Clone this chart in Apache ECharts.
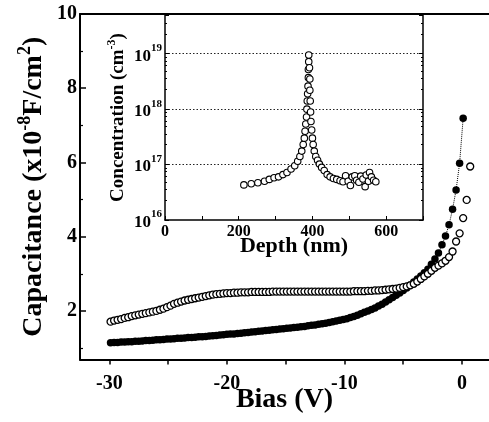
<!DOCTYPE html>
<html>
<head>
<meta charset="utf-8">
<script src="https://cdn.jsdelivr.net/npm/echarts@6/dist/echarts.min.js"></script>
<style>
html,body{margin:0;padding:0;background:#fff;}
#chart{width:489px;height:422px;}
</style>
</head>
<body>
<div id="chart"></div>
<script>
// Main plot: bias (V) sampling of the C-V sweep
const bias = [
-29.9,-29.6,-29.3,-29.0,-28.7,-28.4,-28.1,-27.8,-27.5,-27.2,
-26.9,-26.6,-26.3,-26.0,-25.7,-25.4,-25.1,-24.8,-24.5,-24.2,
-23.9,-23.6,-23.3,-23.0,-22.7,-22.4,-22.1,-21.8,-21.5,-21.2,
-20.9,-20.6,-20.3,-20.0,-19.7,-19.4,-19.1,-18.8,-18.5,-18.2,
-17.9,-17.6,-17.3,-17.0,-16.7,-16.4,-16.1,-15.8,-15.5,-15.2,
-14.9,-14.6,-14.3,-14.0,-13.7,-13.4,-13.1,-12.8,-12.5,-12.2,
-11.9,-11.6,-11.3,-11.0,-10.7,-10.4,-10.1,-9.8,-9.5,-9.2,
-8.9,-8.6,-8.3,-8.0,-7.7,-7.4,-7.1,-6.8,-6.5,-6.2,
-5.9,-5.6,-5.3,-5.0,-4.7,-4.4,-4.1,-3.8,-3.5,-3.2,
-2.9,-2.6,-2.3,-2.0,-1.7,-1.4,-1.1,-0.8,-0.5,-0.2,
0.1,0.4,0.7
];
// Filled circles (x1e-8 F/cm^2)
const capFilled = [
1.14,1.15,1.15,1.16,1.16,1.17,1.17,1.18,1.18,1.19,
1.20,1.20,1.21,1.22,1.22,1.23,1.24,1.24,1.25,1.26,
1.26,1.27,1.28,1.28,1.29,1.30,1.30,1.31,1.32,1.33,
1.34,1.35,1.36,1.37,1.38,1.38,1.39,1.40,1.41,1.42,
1.43,1.44,1.45,1.46,1.47,1.48,1.49,1.50,1.51,1.52,
1.53,1.54,1.55,1.56,1.57,1.58,1.60,1.61,1.62,1.64,
1.65,1.67,1.69,1.71,1.73,1.75,1.77,1.79,1.82,1.85,
1.88,1.92,1.96,2.00,2.04,2.08,2.13,2.18,2.24,2.30,
2.36,2.42,2.48,2.55,2.62,2.70,2.78,2.86,2.94,3.03,
3.12,3.26,3.40,3.56,3.78,4.02,4.32,4.74,5.26,5.98,
7.19
];
// Open circles (x1e-8 F/cm^2)
const capOpen = [
1.71,1.74,1.76,1.78,1.81,1.83,1.86,1.88,1.90,1.92,
1.94,1.96,1.98,2.00,2.03,2.06,2.10,2.14,2.19,2.22,
2.25,2.28,2.30,2.32,2.34,2.36,2.38,2.40,2.42,2.44,
2.45,2.46,2.47,2.48,2.48,2.49,2.49,2.50,2.50,2.50,
2.51,2.51,2.51,2.51,2.51,2.51,2.52,2.52,2.52,2.52,
2.52,2.52,2.52,2.52,2.52,2.52,2.52,2.52,2.52,2.52,
2.52,2.52,2.52,2.52,2.52,2.52,2.52,2.52,2.52,2.53,
2.53,2.53,2.53,2.54,2.54,2.55,2.55,2.56,2.57,2.58,
2.59,2.60,2.62,2.64,2.66,2.69,2.73,2.79,2.86,2.93,
3.00,3.08,3.16,3.22,3.28,3.35,3.45,3.60,3.87,4.09,
4.50,4.99,5.89
];
// Inset: depth (nm) vs concentration (cm^-3)
const depth = [
214,234,252,270,283,296,308,320,331,342,352,360,366,371,375,378,380,382,384,385,386,387,388,389,389,390,390,
392,393,393,394,395,396,398,400,402,405,409,414,419,425,432,440,448,457,466,475,483,
490,497,503,508,515,520,526,531,537,543,546,552,555,560,566,572
];
const conc = [
4.3e16,4.5e16,4.7e16,5.0e16,5.4e16,5.8e16,6.0e16,6.6e16,7.2e16,8.3e16,9.5e16,1.15e17,1.4e17,1.75e17,2.3e17,3.0e17,4.0e17,5.4e17,7.2e17,1.0e18,1.4e18,1.9e18,2.6e18,3.7e18,5.2e18,7.2e18,9.5e18,
5.6e18,3.5e18,2.2e18,1.4e18,8.9e17,6.0e17,4.2e17,3.0e17,2.3e17,1.75e17,1.4e17,1.2e17,1.02e17,8.9e16,7.8e16,6.6e16,6.0e16,5.6e16,5.4e16,5.1e16,4.9e16,
6.3e16,5.0e16,4.2e16,6.0e16,6.3e16,5.2e16,4.8e16,6.2e16,5.5e16,4.0e16,6.5e16,5.0e16,7.2e16,6.0e16,5.2e16,4.9e16
];
const mainYLabels = [2,4,6,8,10];
const mainYMinor = [1,3,5,7,9];
const mainXLabels = [-30,-20,-10,0];
const mainXTicks = [-30,-25,-20,-15,-10,-5,0];

const FONT = 'Liberation Serif';
const txt = {fontFamily: FONT, fontWeight: 'bold', color: '#000'};

const filledData = capFilled.map((v,i)=>[bias[i], v]);
const openData = capOpen.map((v,i)=>[bias[i], v]);
const insetData = conc.map((v,i)=>[depth[i], v]);

const chart = echarts.init(document.getElementById('chart'), null, {renderer:'canvas'});
chart.setOption({
  animation: false,
  backgroundColor: '#fff',
  grid: [
    {left: 80, top: 14, right: 0, bottom: 62.5, containLabel: false, outerBoundsMode: 'none'},
    {left: 165, top: 15, width: 258, height: 205, containLabel: false, outerBoundsMode: 'none'}
  ],
  xAxis: [
    {
      gridIndex: 0, type: 'value', min: -32.5, max: 2.3, position: 'bottom',
      axisLine: {show: true, onZero: false, lineStyle: {color: '#000', width: 2}},
      axisTick: {show: true, inside: false, length: 5, lineStyle: {width: 1.5, color:'#000'}, customValues: mainXTicks},
      axisLabel: Object.assign({fontSize: 20, margin: 14, customValues: mainXLabels}, txt),
      splitLine: {show: false},
      name: 'Bias (V)', nameLocation: 'middle', nameGap: 26, nameMoveOverlap: false,
      nameTextStyle: Object.assign({fontSize: 28}, txt)
    },
    {
      gridIndex: 0, type: 'value', min: -32.5, max: 2.3, position: 'top',
      axisLine: {show: true, onZero: false, lineStyle: {color: '#000', width: 2}},
      axisTick: {show: false}, axisLabel: {show: false}, splitLine: {show: false}
    },
    {
      gridIndex: 1, type: 'value', min: 0, max: 700, interval: 100, position: 'bottom',
      axisLine: {show: true, onZero: false, lineStyle: {color: '#000', width: 1.5}},
      axisTick: {show: true, inside: true, length: 4, lineStyle: {color:'#000'}},
      axisLabel: Object.assign({fontSize: 16, margin: 4, formatter: v => (v % 200 === 0 && v < 700) ? String(v) : ''}, txt),
      splitLine: {show: false},
      name: 'Depth (nm)', nameLocation: 'middle', nameGap: 15, nameMoveOverlap: false,
      nameTextStyle: Object.assign({fontSize: 22}, txt)
    }
  ],
  yAxis: [
    {
      gridIndex: 0, type: 'value', min: 0.69, max: 10, position: 'left',
      axisLine: {show: true, onZero: false, lineStyle: {color: '#000', width: 2}},
      axisTick: {show: true, inside: true, length: 6, lineStyle: {width: 1.5, color:'#000'}, customValues: mainYLabels},
      axisLabel: Object.assign({fontSize: 20, margin: 3, customValues: mainYLabels}, txt),
      splitLine: {show: false},
      name: '{t|Capacitance (x10}{s|-8}{t|F/cm}{s|2}{t|)}',
      nameLocation: 'middle', nameGap: 32, nameRotate: 90, nameMoveOverlap: false,
      nameTextStyle: {
        rich: {
          t: Object.assign({fontSize: 28, lineHeight: 32, verticalAlign: 'bottom'}, txt),
          s: Object.assign({fontSize: 18, lineHeight: 32, verticalAlign: 'top'}, txt)
        }
      }
    },
    {
      gridIndex: 0, type: 'value', min: 0.69, max: 10, position: 'left',
      axisLine: {show: false, onZero: false},
      axisTick: {show: true, inside: true, length: 3, lineStyle: {width: 1.2, color:'#000'}, customValues: mainYMinor},
      axisLabel: {show: false}, splitLine: {show: false}
    },
    {
      gridIndex: 1, type: 'log', logBase: 10, min: 1e16, max: 5e19, position: 'left',
      axisLine: {show: true, onZero: false, lineStyle: {color: '#000', width: 1.5}},
      axisTick: {show: true, inside: true, length: 4, lineStyle: {color:'#000'}},
      minorTick: {show: true, splitNumber: 7, length: 2, lineStyle: {color:'#000'}},
      axisLabel: {
        margin: 3, showMaxLabel: false,
        formatter: v => '{b|10}{s|' + Math.round(Math.log10(v)) + '}',
        rich: {
          b: Object.assign({fontSize: 17, lineHeight: 22, verticalAlign: 'bottom'}, txt),
          s: Object.assign({fontSize: 11, lineHeight: 22, verticalAlign: 'top'}, txt)
        }
      },
      splitLine: {show: true, showMinLine: false, showMaxLine: false, lineStyle: {color: '#222', width: 1, type: [1.5, 2]}},
      name: '{t|Concentration (cm}{s|-3}{t|)}',
      nameLocation: 'middle', nameGap: 37, nameRotate: 90, nameMoveOverlap: false,
      nameTextStyle: {
        rich: {
          t: Object.assign({fontSize: 19, lineHeight: 22, verticalAlign: 'bottom'}, txt),
          s: Object.assign({fontSize: 12, lineHeight: 22, verticalAlign: 'top'}, txt)
        }
      }
    },
    {
      gridIndex: 1, type: 'log', logBase: 10, min: 1e16, max: 5e19, position: 'right',
      axisLine: {show: true, onZero: false, lineStyle: {color: '#000', width: 1.5}},
      axisTick: {show: true, inside: true, length: 4, lineStyle: {color:'#000'}},
      minorTick: {show: true, splitNumber: 7, length: 2, lineStyle: {color:'#000'}},
      axisLabel: {show: false}, splitLine: {show: false}
    }
  ],
  series: [
    {
      type: 'line', xAxisIndex: 0, yAxisIndex: 0, data: filledData,
      symbol: 'circle', symbolSize: 7.5,
      itemStyle: {color: '#000', borderColor: '#000', borderWidth: 0},
      lineStyle: {color: '#000', width: 1, type: 'dotted'},
      z: 3
    },
    {
      type: 'scatter', xAxisIndex: 0, yAxisIndex: 0, data: openData,
      symbol: 'circle', symbolSize: 7,
      itemStyle: {color: '#fff', borderColor: '#000', borderWidth: 1.3, opacity: 1},
      z: 4
    },
    {
      type: 'scatter', xAxisIndex: 2, yAxisIndex: 2, data: insetData,
      symbol: 'circle', symbolSize: 6.5,
      itemStyle: {color: '#fff', borderColor: '#000', borderWidth: 1.1, opacity: 1},
      z: 4
    }
  ]
});
</script>
</body>
</html>
